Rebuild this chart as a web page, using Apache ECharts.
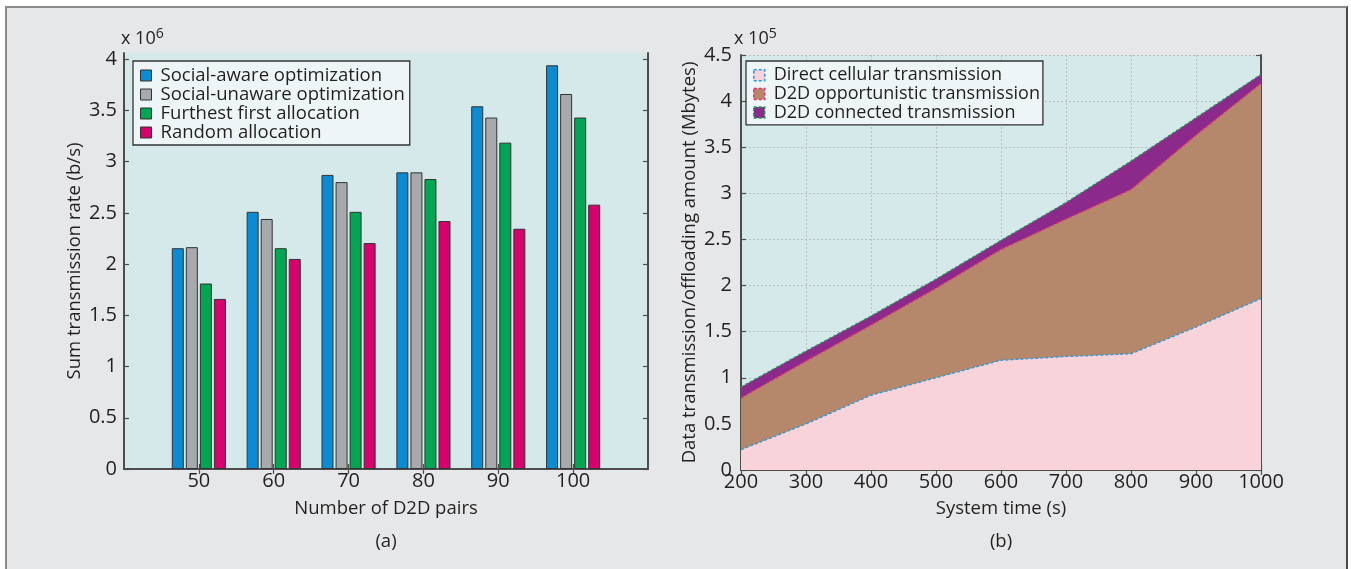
<!DOCTYPE html>
<html>
<head>
<meta charset="utf-8">
<script src="https://cdn.jsdelivr.net/npm/echarts@6/dist/echarts.min.js"></script>
<style>
html,body{margin:0;padding:0;background:#ffffff;}
#frame{position:absolute;left:5px;top:6px;width:1339px;height:580px;background:#e6e7e8;border-top:2px solid #8a8a8a;border-left:2px solid #8a8a8a;border-right:2px solid #4a4a4a;}
#main{position:absolute;left:0;top:0;width:1351px;height:569px;}
</style>
</head>
<body>
<div id="frame"></div>
<div id="main"></div>
<script>
// ---- Data: chart (a) ----
const pairCategories = [50, 60, 70, 80, 90, 100];
const socialAware   = [2.155, 2.51, 2.87, 2.895, 3.54, 3.94];
const socialUnaware = [2.165, 2.44, 2.80, 2.895, 3.43, 3.66];
const furthestFirst = [1.81, 2.155, 2.51, 2.83, 3.185, 3.43];
const randomAlloc   = [1.66, 2.05, 2.205, 2.42, 2.345, 2.58];
const barYTicks = [0, 0.5, 1, 1.5, 2, 2.5, 3, 3.5, 4];

// ---- Data: chart (b) (units of 1e5 Mbytes) ----
const systemTime = ['200', '300', '400', '500', '600', '700', '800', '900', '1000'];
const directCellular = [0.22, 0.50, 0.81, 1.00, 1.19, 1.23, 1.26, 1.55, 1.86];
const d2dOpportunistic = [0.56, 0.68, 0.76, 0.97, 1.20, 1.49, 1.78, 2.08, 2.33];
const d2dConnected = [0.12, 0.11, 0.10, 0.10, 0.10, 0.18, 0.31, 0.19, 0.10];
const areaYTicks = [0, 0.5, 1, 1.5, 2, 2.5, 3, 3.5, 4, 4.5];

const FONT = 'Open Sans';
const AX = '#4d4d4d';
const TXT = '#231f20';
const FS_TICK = 20, FS_NAME = 18.5, FS_LEG = 18.5;

const chart = echarts.init(document.getElementById('main'), null, {renderer: 'canvas'});

function pairs(xs, ys) { return xs.map((x, i) => [x, ys[i]]); }

const barColors = ['#0a8bd3', '#a7a9ac', '#00a651', '#d7006d'];
const barNames = ['Social-aware optimization', 'Social-unaware optimization', 'Furthest first allocation', 'Random allocation'];
const barData = [socialAware, socialUnaware, furthestFirst, randomAlloc];

const areaNames = ['Direct cellular transmission', 'D2D opportunistic transmission', 'D2D connected transmission'];
const areaFill = ['#f9d3da', '#b5876b', '#8c2a8c'];
const areaEdge = ['#2a9ad8', '#e8336e', '#1f9d55'];
const areaData = [directCellular, d2dOpportunistic, d2dConnected];

const tickStyle = {show: true, inside: true, length: 5, lineStyle: {color: AX, width: 1.2}};
const labelStyle = {color: TXT, fontFamily: FONT, fontSize: FS_TICK};
const nameStyle = {color: TXT, fontFamily: FONT, fontSize: FS_NAME};

const option = {
  animation: false,
  textStyle: {fontFamily: FONT},
  grid: [
    {left: 124, top: 53, width: 524, height: 416, show: true, backgroundColor: '#d5e9ea', borderWidth: 0},
    {left: 741, top: 55, width: 520, height: 415, show: true, backgroundColor: '#d5e9ea', borderWidth: 0}
  ],
  xAxis: [
    {gridIndex: 0, type: 'value', min: 40, max: 110, interval: 10, position: 'bottom',
     axisLine: {lineStyle: {color: AX, width: 2}}, axisTick: Object.assign({}, tickStyle, {customValues: pairCategories}),
     axisLabel: Object.assign({}, labelStyle, {margin: 2, customValues: pairCategories, formatter: v => pairCategories.indexOf(v) >= 0 ? String(v) : ''}),
     splitLine: {show: false},
     name: 'Number of D2D pairs', nameLocation: 'middle', nameGap: 30, nameTextStyle: nameStyle},
    {gridIndex: 0, type: 'value', min: 40, max: 110, interval: 10, position: 'top',
     axisLine: {lineStyle: {color: AX, width: 2}}, axisTick: Object.assign({}, tickStyle, {customValues: pairCategories}),
     axisLabel: {show: false}, splitLine: {show: false}},
    {gridIndex: 1, type: 'category', data: systemTime, boundaryGap: false, position: 'bottom',
     axisLine: {lineStyle: {color: AX, width: 2}}, axisTick: tickStyle,
     axisLabel: Object.assign({}, labelStyle, {margin: 2}),
     splitLine: {show: true, lineStyle: {color: '#b9bfc0', type: [2, 2], width: 1}},
     name: 'System time (s)', nameLocation: 'middle', nameGap: 29, nameTextStyle: nameStyle},
    {gridIndex: 1, type: 'category', data: systemTime, boundaryGap: false, position: 'top',
     axisLine: {lineStyle: {color: AX, width: 2}}, axisTick: tickStyle,
     axisLabel: {show: false}, splitLine: {show: false}}
  ],
  yAxis: [
    {gridIndex: 0, type: 'value', min: 0, max: 4.06, interval: 0.5, position: 'left',
     axisLine: {show: true, lineStyle: {color: AX, width: 2}}, axisTick: Object.assign({}, tickStyle, {customValues: barYTicks}),
     axisLabel: Object.assign({}, labelStyle, {margin: 7, customValues: barYTicks}),
     splitLine: {show: false},
     name: 'Sum transmission rate (b/s)', nameLocation: 'middle', nameGap: 40, nameTextStyle: nameStyle},
    {gridIndex: 0, type: 'value', min: 0, max: 4.06, interval: 0.5, position: 'right',
     axisLine: {show: true, lineStyle: {color: AX, width: 2}}, axisTick: Object.assign({}, tickStyle, {customValues: barYTicks}),
     axisLabel: {show: false}, splitLine: {show: false}},
    {gridIndex: 1, type: 'value', min: 0, max: 4.5, interval: 0.5, position: 'left',
     axisLine: {show: true, lineStyle: {color: AX, width: 2}}, axisTick: tickStyle,
     axisLabel: Object.assign({}, labelStyle, {margin: 9}),
     splitLine: {show: true, lineStyle: {color: '#b9bfc0', type: [2, 2], width: 1}},
     name: 'Data transmission/offloading amount (Mbytes)', nameLocation: 'middle', nameGap: 42, nameTextStyle: nameStyle},
    {gridIndex: 1, type: 'value', min: 0, max: 4.5, interval: 0.5, position: 'right',
     axisLine: {show: true, lineStyle: {color: AX, width: 2}}, axisTick: tickStyle,
     axisLabel: {show: false}, splitLine: {show: false}}
  ],
  legend: [
    {left: 133, top: 61, orient: 'vertical', icon: 'rect', itemWidth: 11, itemHeight: 11, itemGap: 0,
     padding: [5, 5, 3, 7], backgroundColor: '#edf5f7', borderColor: '#333', borderWidth: 1.3, borderRadius: 0,
     textStyle: {color: TXT, fontFamily: FONT, fontSize: FS_LEG, lineHeight: 18.6, padding: [0, 0, 0, 4]},
     data: barNames.map((n, i) => ({name: n, itemStyle: {color: barColors[i], borderColor: '#333', borderWidth: 1}})),
     selectedMode: false},
    {left: 746, top: 61, orient: 'vertical', icon: 'rect', itemWidth: 11, itemHeight: 11, itemGap: 0,
     padding: [5, 3, 3, 7], backgroundColor: '#edf5f7', borderColor: '#333', borderWidth: 1.3, borderRadius: 0,
     textStyle: {color: TXT, fontFamily: FONT, fontSize: 18, lineHeight: 18.6, padding: [0, 0, 0, 4]},
     data: areaNames.map((n, i) => ({name: n, itemStyle: {color: areaFill[i], borderColor: areaEdge[i], borderWidth: 1.5, borderType: [3, 2]}})),
     selectedMode: false}
  ],
  graphic: [
    {type: 'text', left: 121, top: 27, style: {rich: {a: {fontFamily: FONT, fontSize: 18, fill: TXT}, s: {fontFamily: FONT, fontSize: 14, fill: TXT, padding: [0, 0, 10, 0]}}, text: '{a|x 10}{s|6}'}},
    {type: 'text', left: 734, top: 27, style: {rich: {a: {fontFamily: FONT, fontSize: 18, fill: TXT}, s: {fontFamily: FONT, fontSize: 14, fill: TXT, padding: [0, 0, 10, 0]}}, text: '{a|x 10}{s|5}'}},
    {type: 'text', x: 386, y: 542, style: {text: '(a)', fontFamily: FONT, fontSize: 18.5, fill: TXT, align: 'center', verticalAlign: 'middle'}},
    {type: 'text', x: 1001, y: 542, style: {text: '(b)', fontFamily: FONT, fontSize: 18.5, fill: TXT, align: 'center', verticalAlign: 'middle'}}
  ],
  series: [
    ...barData.map((d, i) => ({
      type: 'bar', name: barNames[i], xAxisIndex: 0, yAxisIndex: 0,
      data: pairs(pairCategories, d), barWidth: 12, barGap: '17%',
      itemStyle: {color: barColors[i], borderColor: '#333', borderWidth: 1}
    })),
    ...areaData.map((d, i) => ({
      type: 'line', name: areaNames[i], xAxisIndex: 2, yAxisIndex: 2, stack: 'total',
      data: d, showSymbol: false, symbol: 'none',
      lineStyle: {color: areaEdge[i], width: 1.3, type: [3, 2]},
      itemStyle: {color: areaFill[i]},
      areaStyle: {color: areaFill[i], opacity: 1}
    }))
  ]
};
chart.setOption(option);
</script>
</body>
</html>
